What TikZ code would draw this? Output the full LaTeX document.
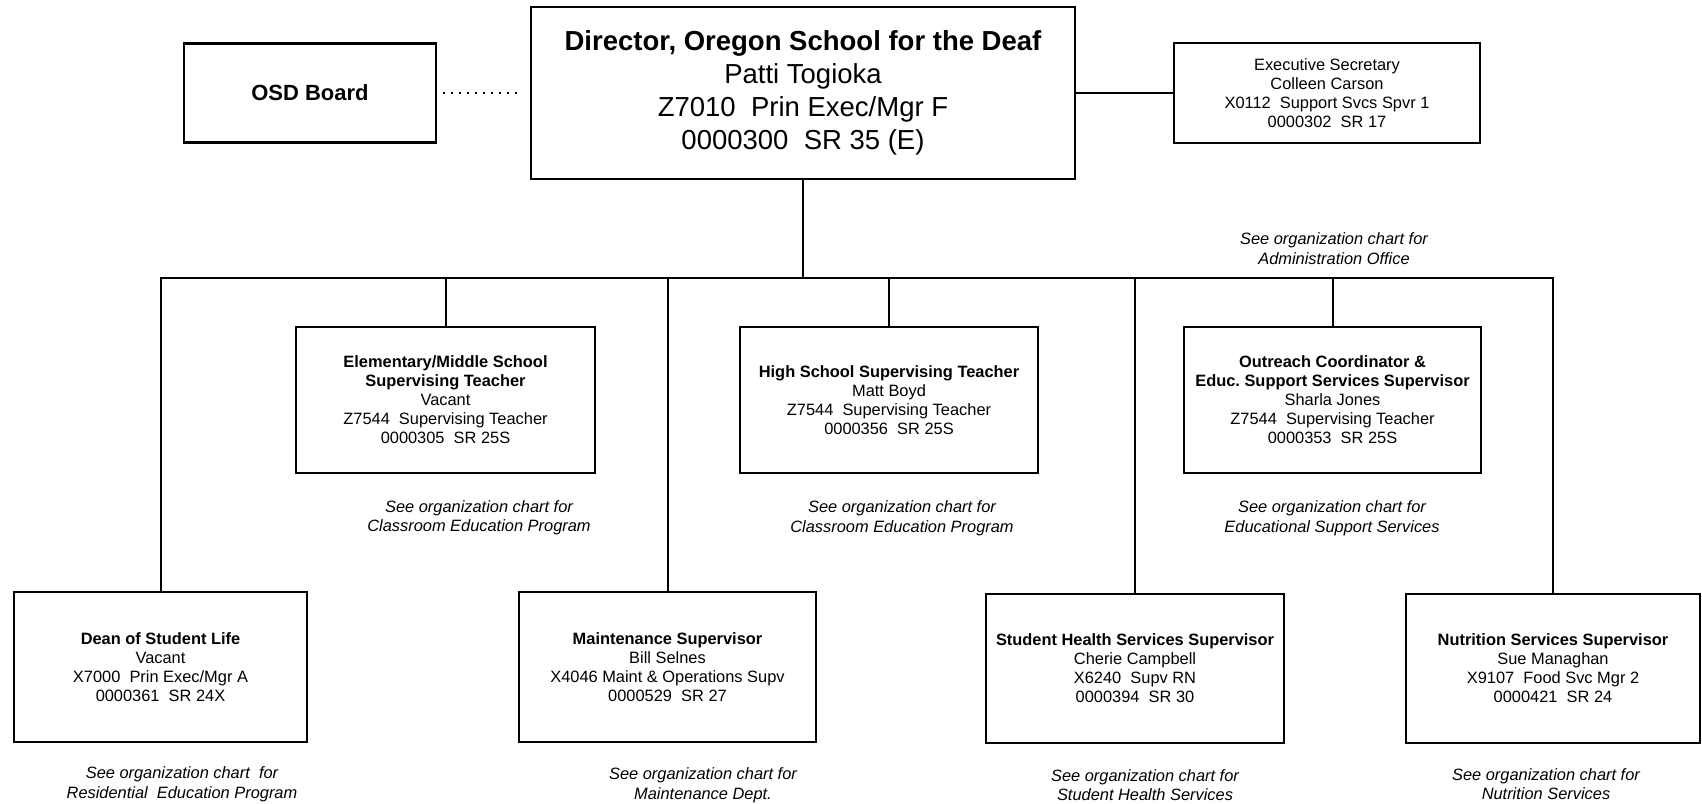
\documentclass[tikz,border=0pt]{standalone}
\usepackage{fontspec}
\setmainfont{Liberation Sans}

\tikzset{
  box/.style={draw, line width=2.5pt, minimum width=298pt, minimum height=148pt, inner sep=0pt, align=center, font=\fontsize{16.4}{19}\selectfont},
  note/.style={align=center, inner sep=0pt, font=\fontsize{16.4}{19.5}\selectfont\itshape},
  link/.style={line width=2pt},
  dotline/.style={line width=2pt, dash pattern=on 2pt off 6pt}
}

\begin{document}
\begin{tikzpicture}[x=1pt, y=-1pt]
	\useasboundingbox (0,0) rectangle (1702,803);
	\node[box, minimum width=252pt, minimum height=99pt, font=\fontsize{22}{26}\selectfont\bfseries] (osd) at (310,93) {OSD Board};
	\node[box, minimum width=544pt, minimum height=172pt, font=\fontsize{27.5}{33}\selectfont] (dir) at (803,93) {\textbf{Director, Oregon School for the Deaf}\\Patti Togioka\\Z7010~ Prin Exec/Mgr F\\0000300~ SR 35 (E)};
	\node[box, minimum width=306pt, minimum height=100pt] (exec) at (1327,93) {Executive Secretary\\Colleen Carson\\X0112~ Support Svcs Spvr 1\\0000302~ SR 17};
	\node[box, minimum width=299pt, minimum height=146pt] (elem) at (445.5,400) {\textbf{Elementary/Middle School}\\\textbf{Supervising Teacher}\\Vacant\\Z7544~ Supervising Teacher\\0000305~ SR 25S};
	\node[box, minimum height=146pt] (hs) at (889,400) {\textbf{High School Supervising Teacher}\\Matt Boyd\\Z7544~ Supervising Teacher\\0000356~ SR 25S};
	\node[box, minimum width=297pt, minimum height=146pt] (outr) at (1332.5,400) {\textbf{Outreach Coordinator \&}\\\textbf{Educ.\ Support Services Supervisor}\\Sharla Jones\\Z7544~ Supervising Teacher\\0000353~ SR 25S};
	\node[box, minimum width=293pt, minimum height=150pt] (dean) at (160.5,667) {\textbf{Dean of Student Life}\\Vacant\\X7000~ Prin Exec/Mgr A\\0000361~ SR 24X};
	\node[box, minimum width=297pt, minimum height=150pt] (maint) at (667.5,667) {\textbf{Maintenance Supervisor}\\Bill Selnes\\X4046 Maint \& Operations Supv\\0000529~ SR 27};
	\node[box, minimum height=149pt] (health) at (1135,668.5) {\textbf{Student Health Services Supervisor}\\Cherie Campbell\\X6240~ Supv RN\\0000394~ SR 30};
	\node[box, minimum width=294pt, minimum height=149pt] (nutr) at (1553,668.5) {\textbf{Nutrition Services Supervisor}\\Sue Managhan\\X9107~ Food Svc Mgr 2\\0000421~ SR 24};
	\node[note] (adminnote) at (1334,248.5) {See organization chart for\\Administration Office};
	\node[note] (elemnote) at (479,518) {See organization chart for\\Classroom Education Program};
	\node[note] (hsnote) at (902,518.5) {See organization chart for\\Classroom Education Program};
	\node[note] (outrnote) at (1332,518.5) {See organization chart for\\Educational Support Services};
	\node[note] (deannote) at (182,784) {See organization chart~ for\\Residential~ Education Program};
	\node[note] (maintnote) at (703,785) {See organization chart for\\Maintenance Dept.};
	\node[note] (healthnote) at (1145,785) {See organization chart for\\Student Health Services};
	\node[note] (nutrnote) at (1546,784) {See organization chart for\\Nutrition Services};
	\coordinate (bus) at (803,278);
	\draw[dotline, shorten <=6pt, shorten >=8pt] (osd.east) -- (osd.east -| dir.west);
	\draw[link] (dir.east) -- (exec.west);
	\draw[link] (dir.south) -- (bus);
	\draw[link] (dean.north) |- (bus) -| (nutr.north);
	\draw[link] (elem.north) -- (elem.north |- bus);
	\draw[link] (hs.north) -- (hs.north |- bus);
	\draw[link] (outr.north) -- (outr.north |- bus);
	\draw[link] (maint.north) -- (maint.north |- bus);
	\draw[link] (health.north) -- (health.north |- bus);
\end{tikzpicture}
\end{document}
